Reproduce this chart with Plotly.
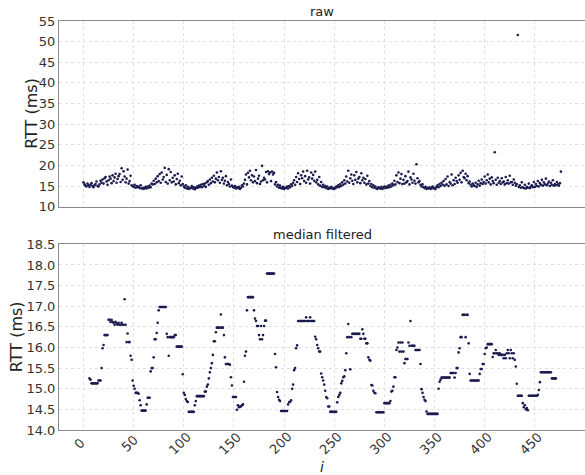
import plotly.graph_objects as go

# Round-trip times per sample index (ms)
raw_rtt = [
    15.9, 15.4, 15.1, 14.9, 15.6, 15.2, 14.8, 15.3, 15.7, 15.0,
    14.7, 15.2, 15.5, 16.1, 15.0, 14.9, 15.4, 16.3, 15.8, 16.6,
    15.6, 16.9, 17.2, 16.1, 15.3, 16.4, 17.3, 16.8, 15.7, 17.6,
    16.2, 17.1, 18.0, 15.8, 16.7, 17.4, 17.9, 16.0, 19.3, 16.5,
    18.6, 17.3, 15.9, 16.8, 19.0, 15.6, 16.2, 17.5, 15.2, 15.0,
    14.8, 15.3, 14.6, 15.0, 14.7, 14.9, 14.5, 15.2, 14.4, 14.6,
    14.3, 14.5, 14.8, 14.4, 14.9, 14.6, 15.1, 14.7, 15.6, 15.4,
    16.3, 15.5, 16.8, 15.9, 17.4, 16.2, 17.9, 15.8, 18.3, 16.6,
    17.2, 19.4, 16.0, 17.7, 15.6, 19.1, 16.4, 18.4, 15.9, 17.0,
    16.1, 17.6, 15.4, 16.7, 18.0, 15.7, 16.3, 15.2, 17.3, 15.5,
    14.9, 14.6, 15.2, 14.4, 14.8, 14.3, 14.6, 14.5, 15.0, 14.4,
    14.7, 14.2, 14.5, 14.9, 14.6, 15.1, 14.8, 15.3, 14.7, 15.5,
    15.0, 15.6, 14.8, 15.9, 16.2, 15.3, 16.6, 15.7, 17.0, 16.1,
    17.5, 15.9, 16.8, 18.3, 16.4, 17.2, 15.8, 18.6, 16.5, 17.0,
    15.6, 16.3, 17.4, 15.2, 16.0, 15.5, 14.9, 16.6, 15.1, 14.8,
    14.6, 15.0, 14.4, 14.7, 14.5, 14.8, 14.3, 14.6, 15.2, 14.9,
    15.6, 16.5, 17.8, 15.4, 18.2, 17.1, 18.7, 16.4, 17.6, 15.9,
    17.3, 16.2, 18.9, 15.7, 16.8, 17.5, 15.5, 16.1, 19.9, 16.4,
    17.0, 16.6, 18.4, 15.9, 18.6, 17.9, 18.3, 16.2, 18.5, 17.8,
    18.2, 15.4, 16.0, 14.9, 15.3, 14.6, 15.1, 14.5, 14.4, 14.8,
    14.3, 14.6, 14.5, 14.9, 14.4, 15.0, 14.7, 15.4, 15.1, 15.8,
    16.4, 15.3, 17.2, 16.0, 18.1, 16.7, 15.5, 17.6, 16.9, 18.5,
    16.2, 17.4, 15.8, 18.7, 16.6, 17.1, 15.6, 18.3, 16.8, 17.7,
    16.3, 18.5, 15.9, 16.5, 15.4, 17.2, 15.1, 16.0, 14.8, 15.3,
    14.7, 15.0, 14.5, 14.9, 14.3, 14.6, 14.4, 14.8, 14.5, 14.3,
    14.6, 14.4, 14.9, 14.7, 15.2, 14.8, 15.5, 15.0, 15.9, 15.3,
    16.4, 15.6, 17.3, 16.1, 18.7, 15.8, 16.9, 17.8, 16.3, 15.5,
    17.6, 16.5, 18.4, 15.9, 16.8, 17.2, 15.7, 18.1, 16.4, 17.0,
    15.8, 16.7, 15.4, 17.5, 15.6, 16.2, 15.0, 15.5, 14.7, 15.2,
    14.6, 14.9, 14.4, 14.3, 14.7, 14.5, 14.4, 14.8, 14.3, 14.6,
    14.9, 14.5, 14.8, 14.6, 15.1, 14.7, 15.3, 14.9, 15.6, 15.2,
    16.3, 15.4, 17.6, 16.0, 18.3, 15.7, 16.8, 17.9, 15.5, 16.5,
    15.6, 17.4, 15.9, 16.2, 18.5, 15.4, 17.1, 16.6, 15.8, 18.0,
    16.3, 15.6, 20.3, 16.9, 15.9, 16.2, 15.3, 14.9, 15.4, 14.7,
    14.5, 14.8, 14.3, 14.6, 14.4, 14.7, 14.3, 14.5, 14.9, 14.4,
    14.6, 14.3, 14.8, 15.2, 14.7, 15.5, 15.0, 15.8, 15.3, 16.2,
    15.1, 16.7, 15.4, 17.3, 15.0, 16.0, 15.6, 17.8, 15.2, 16.4,
    15.5, 17.0, 16.2, 15.8, 17.6, 16.5, 18.2, 15.9, 18.7, 17.2,
    16.9, 18.0, 16.4, 17.4, 15.7, 16.1, 15.3, 14.9, 15.6, 15.2,
    15.0, 15.8, 14.8, 15.4, 16.3, 15.1, 15.7, 16.6, 15.5, 16.0,
    17.3, 15.6, 16.4, 17.8, 15.9, 16.8, 15.4, 17.1, 16.2, 15.7,
    23.2, 16.5, 15.3, 17.0, 15.8, 16.2, 15.5, 16.9, 15.9, 16.1,
    15.4, 17.2, 15.7, 16.4, 15.6, 17.5, 15.9, 16.0, 15.3, 16.6,
    15.8, 15.1, 15.5, 51.6, 14.8, 15.2, 14.6, 15.9, 14.7, 14.5,
    15.3, 14.4, 14.8, 14.6, 15.6, 14.5, 14.9, 15.2, 14.7, 16.0,
    14.8, 15.5, 15.0, 16.2, 14.9, 15.7, 15.3, 16.5, 15.1, 15.9,
    15.4, 16.8, 15.2, 15.6, 16.1, 15.0, 15.8, 15.3, 16.4, 15.1,
    15.5, 15.2, 16.0, 15.4, 15.1, 15.7, 18.5,
]

# Median-filtered RTT (ms), first value belongs to sample index MEDIAN_START
MEDIAN_START = 6
median_rtt = [
    15.25, 15.22, 15.13, 15.13,
    15.13, 15.13, 15.13, 15.13, 15.13, 15.20, 15.20, 15.20, 15.50, 15.98,
    16.06, 16.30, 16.30, 16.30, 16.30, 16.67, 16.67, 16.62, 16.67, 16.62,
    16.60, 16.55, 16.62, 16.58, 16.55, 16.60, 16.55, 16.55, 16.60, 16.55,
    16.55, 17.17, 16.55, 16.13, 16.34, 16.13, 16.13, 15.80, 15.70, 15.20,
    15.07, 15.00, 14.90, 14.90, 14.90, 14.88, 14.72, 14.60, 14.47, 14.47,
    14.47, 14.47, 14.47, 14.62, 14.78, 14.78, 14.78, 15.42, 15.50, 15.50,
    15.76, 16.20, 16.20, 16.35, 16.60, 16.90, 16.98, 16.98, 16.98, 16.98,
    16.98, 16.98, 16.98, 16.33, 16.25, 15.80, 16.25, 16.25, 16.25, 16.25,
    16.25, 16.30, 16.30, 16.02, 16.02, 16.02, 16.02, 16.02, 16.02, 15.35,
    14.90, 14.85, 14.75, 14.70, 14.68, 14.44, 14.44, 14.44, 14.44, 14.44,
    14.44, 14.60, 14.70, 14.82, 14.82, 14.82, 14.82, 14.82, 14.82, 14.82,
    14.82, 14.93, 14.93, 15.05, 15.10, 15.25, 15.40, 15.50, 15.62, 15.82,
    16.15, 16.15, 16.37, 16.48, 16.48, 16.48, 16.48, 16.80, 16.48, 16.48,
    16.30, 15.76, 15.60, 15.60, 15.60, 15.60, 15.58, 15.28, 15.08, 14.80,
    14.80, 14.80, 14.80, 14.49, 14.60, 14.55, 14.57, 14.57, 14.60, 14.62,
    15.17, 15.80, 15.90, 16.90, 17.22, 17.22, 17.22, 17.22, 17.22, 17.22,
    16.90, 16.70, 16.64, 16.52, 16.52, 16.30, 16.20, 16.52, 16.20, 16.30,
    16.52, 16.65, 16.65, 17.79, 17.79, 17.79, 17.79, 17.79, 17.79, 17.79,
    17.79, 15.84, 15.52, 14.92, 14.80, 14.73, 14.70, 14.46, 14.46, 14.46,
    14.46, 14.46, 14.46, 14.46, 14.62, 14.68, 14.68, 14.72, 15.00, 15.10,
    15.45, 15.50, 15.98, 16.05, 16.64, 16.64, 16.64, 16.64, 16.64, 16.64,
    16.64, 16.64, 16.73, 16.64, 16.64, 16.64, 16.73, 16.64, 16.64, 16.64,
    16.64, 16.26, 16.20, 16.06, 15.98, 15.90, 15.90, 15.37, 15.28, 15.20,
    15.10, 14.95, 14.80, 14.77, 14.57, 14.57, 14.44, 14.44, 14.44, 14.44,
    14.44, 14.44, 14.44, 14.67, 14.80, 14.85, 14.90, 15.13, 15.19, 15.28,
    15.30, 15.45, 15.86, 16.25, 16.57, 16.25, 15.47, 16.25, 16.33, 16.33,
    16.33, 16.33, 16.33, 16.33, 16.33, 16.33, 16.21, 16.21, 16.44, 16.33,
    16.21, 16.21, 16.10, 16.10, 15.76, 15.70, 15.68, 15.09, 15.08, 14.95,
    14.90, 14.89, 14.43, 14.43, 14.43, 14.43, 14.43, 14.43, 14.43, 14.43,
    14.65, 14.65, 14.65, 14.65, 14.65, 14.65, 14.70, 14.93, 14.95, 15.05,
    15.28, 15.28, 15.94, 16.00, 16.12, 15.90, 16.12, 15.90, 16.12, 15.90,
    15.62, 15.72, 15.72, 15.72, 16.12, 16.04, 16.64, 16.04, 16.04, 16.04,
    16.04, 15.94, 15.94, 15.94, 15.94, 15.94, 15.60, 14.99, 14.90, 14.80,
    14.73, 14.70, 14.45, 14.39, 14.39, 14.39, 14.39, 14.39, 14.39, 14.39,
    14.39, 14.39, 14.39, 14.39, 15.00, 15.17, 15.22, 15.27, 15.27, 15.27,
    15.27, 15.27, 15.27, 15.27, 15.27, 15.27, 15.38, 15.38, 15.38, 15.38,
    15.27, 15.38, 15.50, 15.50, 15.88, 15.98, 16.25, 16.25, 16.79, 16.79,
    16.79, 16.25, 16.79, 16.79, 16.10, 15.36, 15.20, 15.20, 15.20, 15.20,
    15.20, 15.20, 15.20, 15.20, 15.20, 15.36, 15.48, 15.48, 15.60, 15.60,
    15.84, 15.98, 16.00, 16.08, 16.08, 16.08, 16.08, 16.08, 15.77, 15.86,
    15.86, 15.94, 15.86, 15.86, 15.82, 15.86, 15.82, 15.82, 15.82, 15.74,
    15.82, 15.74, 15.86, 15.94, 15.86, 15.74, 15.94, 15.86, 15.74, 15.86,
    15.70, 15.54, 15.12, 14.83, 14.83, 14.83, 14.83, 14.83, 14.65, 14.55,
    14.60, 14.50, 14.53, 14.48, 14.83, 14.83, 14.83, 14.83, 14.83, 14.83,
    14.83, 14.83, 14.83, 14.85, 14.97, 15.16, 15.40, 15.40, 15.40, 15.40,
    15.40, 15.40, 15.40, 15.40, 15.40, 15.40, 15.40, 15.25, 15.25, 15.25,
    15.25, 15.25,
]

x_ticks = [0, 50, 100, 150, 200, 250, 300, 350, 400, 450]
raw_y_ticks = [10, 15, 20, 25, 30, 35, 40, 45, 50, 55]
median_y_ticks = [14.0, 14.5, 15.0, 15.5, 16.0, 16.5, 17.0, 17.5, 18.0, 18.5]

raw_idx = list(range(len(raw_rtt)))
median_idx = list(range(MEDIAN_START, MEDIAN_START + len(median_rtt)))

DOT = "#1b1b4f"
FONT = "DejaVu Sans"
TICK_COLOR = "#333333"
GRID = "#e0e0e0"
SPINE = "#8a8a8a"
PLOT_W = 526   # plot area width in px
PLOT_H = 409   # plot area height in px (both panels and the gap)

fig = go.Figure()
fig.add_trace(go.Scatter(x=raw_idx, y=raw_rtt, mode="markers",
                         marker=dict(size=2.6, color=DOT, line=dict(width=0)),
                         xaxis="x", yaxis="y", showlegend=False))
fig.add_trace(go.Scatter(x=median_idx, y=median_rtt, mode="markers",
                         marker=dict(size=2.6, color=DOT, line=dict(width=0)),
                         xaxis="x2", yaxis="y2", showlegend=False))

common_x = dict(range=[-24.4, 500], tickvals=x_ticks, showgrid=True,
                gridcolor=GRID, griddash="dot", gridwidth=1,
                showline=True, linecolor=SPINE, linewidth=1, mirror=True,
                zeroline=False, ticks="", showticklabels=False)
common_y = dict(showgrid=True, gridcolor=GRID, griddash="dot", gridwidth=1,
                showline=True, linecolor=SPINE, linewidth=1, mirror=True,
                zeroline=False, ticks="",
                tickfont=dict(family=FONT, size=13, color=TICK_COLOR))

# Rotated index labels, centred slightly left of each tick
tick_labels = [
    dict(text=str(t), x=t - 4, y=-13 / PLOT_H, xref="x2", yref="paper",
         xanchor="center", yanchor="middle", textangle=-45, showarrow=False,
         font=dict(family=FONT, size=13, color=TICK_COLOR))
    for t in x_ticks
]

fig.update_layout(
    width=585, height=475,
    margin=dict(l=59, r=0, t=21, b=45),
    paper_bgcolor="white", plot_bgcolor="white",
    xaxis=dict(**common_x, domain=[0, 1], anchor="y"),
    yaxis=dict(**common_y, domain=[0.546, 1], range=[10, 55],
               tickvals=raw_y_ticks, anchor="x"),
    xaxis2=dict(**common_x, domain=[0, 1], anchor="y2"),
    yaxis2=dict(**common_y, domain=[0, 0.454], range=[14.0, 18.5],
                tickvals=median_y_ticks, tickformat=".1f", anchor="x2"),
    annotations=tick_labels + [
        dict(text="raw", x=0.5, y=1, xref="paper", yref="paper",
             xanchor="center", yanchor="bottom", showarrow=False,
             font=dict(family=FONT, size=13, color="#222")),
        dict(text="median filtered", x=0.5, y=0.454, xref="paper", yref="paper",
             xanchor="center", yanchor="bottom", showarrow=False,
             font=dict(family=FONT, size=13, color="#222")),
        dict(text="RTT (ms)", x=-27 / PLOT_W, y=0.773, xref="paper", yref="paper",
             xanchor="center", yanchor="middle", textangle=-90, showarrow=False,
             font=dict(family=FONT, size=16, color="#222")),
        dict(text="RTT (ms)", x=-43 / PLOT_W, y=0.227, xref="paper", yref="paper",
             xanchor="center", yanchor="middle", textangle=-90, showarrow=False,
             font=dict(family=FONT, size=16, color="#222")),
        dict(text="<i>i</i>", x=0.5, y=-37 / PLOT_H, xref="paper", yref="paper",
             xanchor="center", yanchor="middle", showarrow=False,
             font=dict(family=FONT, size=14, color="#222")),
    ],
)

fig.write_html("out.html")
